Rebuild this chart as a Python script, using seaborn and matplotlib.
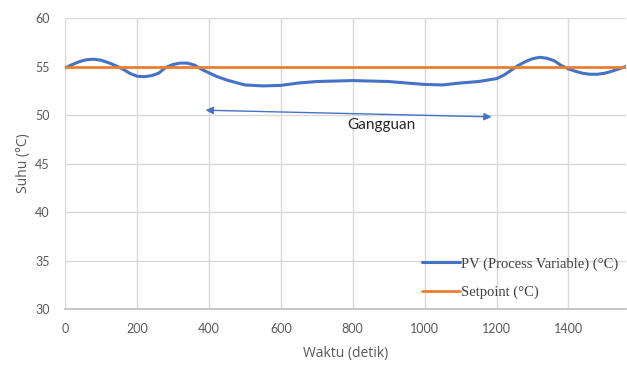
import matplotlib
matplotlib.use("Agg")
import matplotlib.pyplot as plt
import seaborn as sns
import pandas as pd

waktu = [0, 20, 40, 60, 80, 100, 120, 140, 160, 180, 200, 220, 240, 260, 280,
         300, 320, 340, 360, 380, 400, 420, 450, 480, 500, 550, 600, 650, 700,
         750, 800, 850, 900, 950, 1000, 1050, 1100, 1150, 1200, 1220, 1240,
         1260, 1280, 1300, 1320, 1340, 1360, 1380, 1400, 1420, 1440, 1460,
         1480, 1500, 1520, 1540, 1560]
pv = [54.85, 55.2, 55.5, 55.7, 55.75, 55.65, 55.4, 55.1, 54.75, 54.3, 54.0,
      53.95, 54.05, 54.3, 54.9, 55.2, 55.35, 55.35, 55.15, 54.7, 54.35, 54.0,
      53.6, 53.3, 53.1, 53.0, 53.05, 53.3, 53.45, 53.5, 53.55, 53.5, 53.45,
      53.3, 53.15, 53.1, 53.3, 53.45, 53.75, 54.1, 54.6, 55.1, 55.5, 55.8,
      55.95, 55.85, 55.6, 55.1, 54.75, 54.5, 54.3, 54.2, 54.2, 54.3, 54.5,
      54.75, 55.0]
setpoint = [55.0] * len(waktu)

pv_label = "PV (Process Variable) (°C)"
sp_label = "Setpoint (°C)"
x_ticks = [0, 200, 400, 600, 800, 1000, 1200, 1400]
y_ticks = [30, 35, 40, 45, 50, 55, 60]
arrow_start = (383, 50.5)
arrow_end = (1194, 49.8)
anno_text = "Gangguan"

df = pd.DataFrame({"Waktu": waktu, "PV": pv, "Setpoint": setpoint})

sns.set_theme(style="white")
plt.rcParams['font.family'] = ['Lato', 'DejaVu Sans']

fig = plt.figure(figsize=(6.27, 3.65), dpi=100)
ax = fig.add_axes([65/627, 1-309/365, (626-65)/627, (309-18)/365])

sns.lineplot(data=df, x="Waktu", y="PV", ax=ax, color="#4472C4", lw=2.2,
             label=pv_label)
sns.lineplot(data=df, x="Waktu", y="Setpoint", ax=ax, color="#ED7D31",
             lw=2.0, label=sp_label)

ax.set_xlim(0, 1560)
ax.set_ylim(30, 60)
ax.set_xticks(x_ticks)
ax.set_yticks(y_ticks)
ax.grid(True, color="#d9d9d9", lw=1)
ax.set_axisbelow(True)
for s in ["top", "right", "left"]:
    ax.spines[s].set_visible(False)
ax.spines["bottom"].set_color("#bfbfbf")
ax.tick_params(axis="both", colors="#595959", labelsize=9, length=0)
ax.tick_params(axis="x", pad=10)
ax.tick_params(axis="y", pad=11)

ax.set_xlabel("Waktu (detik)", color="#595959", fontsize=10,
              family=["Open Sans", "DejaVu Sans"], labelpad=8)
ax.set_ylabel("Suhu (°C)", color="#595959", fontsize=10,
              family=["Open Sans", "DejaVu Sans"], labelpad=3)

ax.annotate("", xy=arrow_start, xytext=arrow_end,
            arrowprops=dict(arrowstyle="<|-|>", color="#4472C4", lw=1.0,
                            mutation_scale=11))
ax.text(880, 49.0, anno_text, ha="center", va="center", fontsize=11,
        color="#262626")

leg = ax.legend(loc="lower right", bbox_to_anchor=(1.01, -0.01), frameon=False,
                prop={"family": "Liberation Serif", "size": 10.5},
                handlelength=2.6, handletextpad=0.1, labelspacing=1.0)
for t in leg.get_texts():
    t.set_color("#404040")

fig.savefig("out.png", dpi=100)
